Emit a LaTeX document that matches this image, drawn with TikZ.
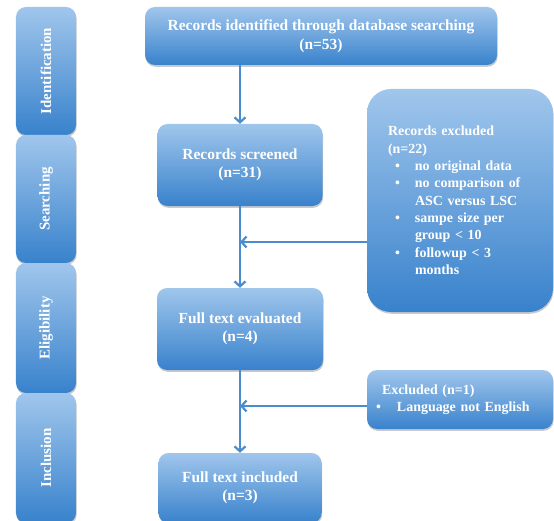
\documentclass[tikz,border=0pt]{standalone}
\usepackage{fontspec}
\setmainfont{Liberation Serif}
\usetikzlibrary{arrows.meta,shadows}

\definecolor{boxlight}{RGB}{160,198,236}
\definecolor{boxdark}{RGB}{56,130,204}
\definecolor{flowline}{RGB}{74,140,206}

\newcommand{\bitem}{\hspace*{7bp}\makebox[20bp][l]{\textbullet}}
\newcommand{\bcont}{\hspace*{27bp}}

\begin{document}
\begin{tikzpicture}[x=1bp,y=-1bp]
            \tikzset{flowbox/.style={draw=none, text=white, inner sep=0pt, rounded corners=10bp,
            top color=boxlight, bottom color=boxdark,
            drop shadow={shadow xshift=0.6bp, shadow yshift=-1.8bp, opacity=0.35, fill=black!60}},
            stepbox/.style={flowbox, align=center, font=\fontsize{15.5}{18.5}\selectfont\bfseries},
            sidebox/.style={flowbox, align=left, font=\fontsize{14}{17.4}\selectfont\bfseries},
            stagebox/.style={flowbox, rotate=90, minimum width=128bp, minimum height=60bp,
            font=\fontsize{15}{18}\selectfont\bfseries},
            flow/.style={draw=flowline, line width=2.2bp, -{Straight Barb[length=5bp,width=11bp]}}}

            \useasboundingbox (0,0) rectangle (554,521);

            \node[stagebox] (identification) at (46,71) {Identification};
            \node[stagebox] (searching) at (46,199) {Searching};
            \node[stagebox, minimum width=130bp] (eligibility) at (46,328) {Eligibility};
            \node[stagebox, minimum width=130bp] (inclusion) at (46,458) {Inclusion};

            \node[stepbox, minimum width=352bp, minimum height=58bp] (ident) at (321,36) {Records identified through database searching\\(n=53)};
            \node[stepbox, minimum width=165bp, minimum height=82bp] (screened) at (240,165) {Records screened\\(n=31)};
            \node[stepbox, minimum width=166bp, minimum height=82bp] (fulleval) at (240,329) {Full text evaluated\\(n=4)};
            \node[stepbox, minimum width=163bp, minimum height=70bp] (included) at (240,488) {Full text included\\(n=3)};

            \node[sidebox, rounded corners=24bp, minimum width=186bp, minimum height=223bp, text width=144bp] (excl) at (460,200.5) {Records excluded\\(n=22)\\
            \bitem no original data\\
            \bitem no comparison of\\
            \bcont ASC versus LSC\\
            \bitem sampe size per\\
            \bcont group < 10\\
            \bitem followup < 3\\
            \bcont months};
            \node[sidebox, minimum width=186bp, minimum height=59bp, text width=168bp] (exclone) at (460,399.5) {\hspace*{6bp}Excluded (n=1)\\
            \makebox[21bp][l]{\textbullet}Language not English};

            \coordinate (join1) at (240,242);
            \coordinate (join2) at (240,406);

            \draw[flow] (screened.north |- ident.south) -- (screened.north);
            \draw[flow] (screened.south) -- (fulleval.north);
            \draw[flow] (fulleval.south) -- (included.north);
            \draw[flow] (excl.west |- join1) -- (join1);
            \draw[flow] (exclone.west |- join2) -- (join2);
        \end{tikzpicture}
\end{document}
